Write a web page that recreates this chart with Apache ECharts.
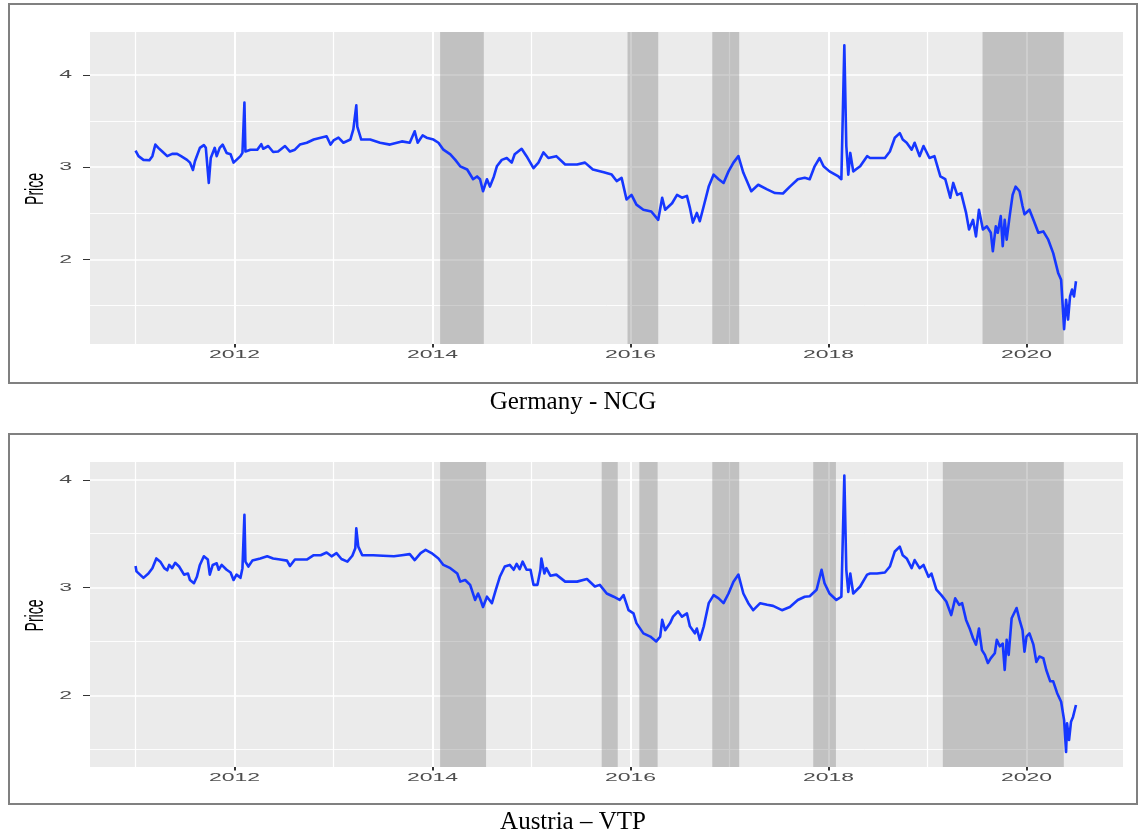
<!DOCTYPE html>
<html>
<head>
<meta charset="utf-8">
<script src="https://cdn.jsdelivr.net/npm/echarts@6/dist/echarts.min.js"></script>
<style>
  html, body { margin: 0; padding: 0; background: #ffffff; }
  #chart { width: 1139px; height: 836px; }
</style>
</head>
<body>
<div id="chart"></div>
<script>
// Daily gas hub prices (decimal year, price), Germany NCG
const ncgYears = [
  2011.00, 2011.03, 2011.08, 2011.14, 2011.17, 2011.20, 2011.23, 2011.27, 2011.32, 2011.37,
  2011.42, 2011.46, 2011.52, 2011.55, 2011.58, 2011.60, 2011.65, 2011.69, 2011.71, 2011.74,
  2011.76, 2011.80, 2011.82, 2011.85, 2011.88, 2011.92, 2011.96, 2011.99, 2012.02, 2012.06,
  2012.08, 2012.10, 2012.11, 2012.16, 2012.23, 2012.27, 2012.29, 2012.34, 2012.39, 2012.44,
  2012.51, 2012.56, 2012.61, 2012.66, 2012.73, 2012.80, 2012.87, 2012.93, 2012.97, 2013.00,
  2013.05, 2013.10, 2013.17, 2013.20, 2013.23, 2013.24, 2013.28, 2013.37, 2013.47, 2013.57,
  2013.69, 2013.77, 2013.82, 2013.85, 2013.90, 2013.94, 2014.01, 2014.06, 2014.11, 2014.18,
  2014.23, 2014.28, 2014.35, 2014.41, 2014.45, 2014.48, 2014.51, 2014.55, 2014.58, 2014.62,
  2014.65, 2014.70, 2014.75, 2014.80, 2014.83, 2014.90, 2014.95, 2015.02, 2015.07, 2015.12,
  2015.17, 2015.25, 2015.34, 2015.46, 2015.54, 2015.62, 2015.73, 2015.81, 2015.86, 2015.91,
  2015.96, 2016.01, 2016.06, 2016.13, 2016.21, 2016.28, 2016.32, 2016.35, 2016.42, 2016.47,
  2016.52, 2016.57, 2016.60, 2016.63, 2016.67, 2016.70, 2016.74, 2016.79, 2016.84, 2016.89,
  2016.94, 2016.99, 2017.04, 2017.09, 2017.14, 2017.22, 2017.29, 2017.38, 2017.46, 2017.54,
  2017.61, 2017.69, 2017.76, 2017.81, 2017.86, 2017.91, 2017.95, 2018.01, 2018.10, 2018.13,
  2018.16, 2018.18, 2018.20, 2018.22, 2018.25, 2018.32, 2018.39, 2018.42, 2018.49, 2018.57,
  2018.62, 2018.67, 2018.72, 2018.75, 2018.79, 2018.84, 2018.87, 2018.92, 2018.96, 2019.02,
  2019.07, 2019.13, 2019.18, 2019.23, 2019.26, 2019.30, 2019.34, 2019.39, 2019.42, 2019.46,
  2019.49, 2019.52, 2019.56, 2019.60, 2019.64, 2019.66, 2019.69, 2019.71, 2019.74, 2019.76,
  2019.78, 2019.80, 2019.83, 2019.86, 2019.89, 2019.93, 2019.96, 2019.98, 2020.03, 2020.07,
  2020.12, 2020.17, 2020.22, 2020.27, 2020.32, 2020.35, 2020.38, 2020.40, 2020.42, 2020.44,
  2020.46, 2020.48, 2020.50
];
const ncgPrice = [
  3.18, 3.12, 3.08, 3.075, 3.12, 3.245, 3.21, 3.17, 3.12, 3.145,
  3.145, 3.12, 3.08, 3.05, 2.97, 3.065, 3.21, 3.24, 3.21, 2.83,
  3.10, 3.21, 3.12, 3.21, 3.245, 3.155, 3.14, 3.05, 3.08, 3.12,
  3.155, 3.70, 3.17, 3.19, 3.19, 3.25, 3.20, 3.23, 3.165, 3.17,
  3.23, 3.17, 3.19, 3.245, 3.265, 3.30, 3.32, 3.335, 3.245, 3.29,
  3.32, 3.265, 3.30, 3.41, 3.67, 3.44, 3.30, 3.30, 3.265, 3.245,
  3.28, 3.265, 3.39, 3.265, 3.345, 3.32, 3.30, 3.265, 3.19, 3.14,
  3.08, 3.01, 2.975, 2.87, 2.90, 2.87, 2.74, 2.87, 2.79, 2.90,
  3.01, 3.08, 3.10, 3.05, 3.14, 3.20, 3.12, 2.99, 3.05, 3.16,
  3.10, 3.12, 3.03, 3.03, 3.05, 2.975, 2.945, 2.92, 2.85, 2.885,
  2.65, 2.70, 2.595, 2.54, 2.52, 2.43, 2.67, 2.54, 2.61, 2.70,
  2.67, 2.69, 2.56, 2.40, 2.505, 2.415, 2.58, 2.79, 2.92, 2.87,
  2.83, 2.955, 3.05, 3.12, 2.94, 2.74, 2.81, 2.76, 2.72, 2.715,
  2.79, 2.87, 2.885, 2.87, 3.01, 3.10, 3.01, 2.955, 2.90, 2.87,
  4.32, 3.23, 2.92, 3.155, 2.955, 3.01, 3.12, 3.10, 3.10, 3.10,
  3.17, 3.32, 3.37, 3.30, 3.265, 3.19, 3.265, 3.12, 3.23, 3.10,
  3.12, 2.90, 2.87, 2.67, 2.83, 2.70, 2.72, 2.505, 2.325, 2.43,
  2.25, 2.54, 2.325, 2.36, 2.29, 2.09, 2.36, 2.29, 2.47, 2.145,
  2.43, 2.215, 2.47, 2.70, 2.79, 2.74, 2.58, 2.49, 2.54, 2.43,
  2.29, 2.305, 2.215, 2.07, 1.855, 1.78, 1.245, 1.565, 1.35, 1.60,
  1.675, 1.60, 1.765
];

// Daily gas hub prices (decimal year, price), Austria VTP
const vtpYears = [
  2011.00, 2011.01, 2011.08, 2011.13, 2011.17, 2011.21, 2011.25, 2011.29, 2011.32, 2011.34,
  2011.37, 2011.40, 2011.44, 2011.49, 2011.53, 2011.55, 2011.59, 2011.62, 2011.65, 2011.69,
  2011.73, 2011.75, 2011.78, 2011.82, 2011.84, 2011.87, 2011.92, 2011.96, 2011.99, 2012.02,
  2012.06, 2012.08, 2012.10, 2012.11, 2012.14, 2012.18, 2012.26, 2012.33, 2012.39, 2012.46,
  2012.53, 2012.56, 2012.61, 2012.68, 2012.73, 2012.80, 2012.87, 2012.93, 2012.98, 2013.03,
  2013.08, 2013.14, 2013.19, 2013.22, 2013.23, 2013.25, 2013.29, 2013.40, 2013.50, 2013.61,
  2013.69, 2013.77, 2013.82, 2013.88, 2013.93, 2013.99, 2014.06, 2014.11, 2014.18, 2014.25,
  2014.28, 2014.33, 2014.38, 2014.43, 2014.46, 2014.48, 2014.51, 2014.55, 2014.60, 2014.64,
  2014.68, 2014.73, 2014.78, 2014.82, 2014.85, 2014.88, 2014.91, 2014.95, 2014.99, 2015.02,
  2015.06, 2015.09, 2015.10, 2015.13, 2015.15, 2015.19, 2015.25, 2015.34, 2015.46, 2015.56,
  2015.64, 2015.69, 2015.76, 2015.83, 2015.89, 2015.93, 2015.98, 2016.03, 2016.06, 2016.13,
  2016.20, 2016.26, 2016.30, 2016.32, 2016.35, 2016.40, 2016.43, 2016.48, 2016.52, 2016.57,
  2016.60, 2016.65, 2016.67, 2016.70, 2016.74, 2016.79, 2016.84, 2016.89, 2016.94, 2016.99,
  2017.04, 2017.09, 2017.14, 2017.19, 2017.24, 2017.31, 2017.38, 2017.44, 2017.53, 2017.61,
  2017.69, 2017.76, 2017.81, 2017.88, 2017.93, 2017.96, 2018.01, 2018.08, 2018.13, 2018.16,
  2018.18, 2018.20, 2018.22, 2018.25, 2018.32, 2018.39, 2018.42, 2018.49, 2018.57, 2018.62,
  2018.67, 2018.72, 2018.75, 2018.79, 2018.84, 2018.87, 2018.92, 2018.96, 2019.01, 2019.04,
  2019.09, 2019.14, 2019.19, 2019.24, 2019.28, 2019.32, 2019.35, 2019.39, 2019.43, 2019.46,
  2019.49, 2019.52, 2019.55, 2019.58, 2019.61, 2019.64, 2019.68, 2019.70, 2019.73, 2019.76,
  2019.78, 2019.80, 2019.82, 2019.85, 2019.90, 2019.93, 2019.96, 2019.98, 2020.00, 2020.03,
  2020.07, 2020.10, 2020.13, 2020.17, 2020.20, 2020.24, 2020.27, 2020.31, 2020.35, 2020.38,
  2020.40, 2020.41, 2020.43, 2020.45, 2020.47, 2020.50
];
const vtpPrice = [
  3.20, 3.15, 3.09, 3.13, 3.18, 3.27, 3.24, 3.18, 3.16, 3.21,
  3.18, 3.23, 3.195, 3.12, 3.13, 3.07, 3.04, 3.10, 3.21, 3.29,
  3.26, 3.12, 3.21, 3.225, 3.165, 3.21, 3.165, 3.14, 3.07, 3.12,
  3.09, 3.18, 3.675, 3.24, 3.195, 3.25, 3.27, 3.29, 3.27, 3.26,
  3.25, 3.20, 3.26, 3.26, 3.26, 3.30, 3.30, 3.325, 3.29, 3.32,
  3.265, 3.24, 3.295, 3.365, 3.55, 3.38, 3.30, 3.30, 3.295, 3.29,
  3.30, 3.31, 3.255, 3.32, 3.35, 3.32, 3.27, 3.21, 3.18, 3.13,
  3.055, 3.07, 3.025, 2.885, 2.945, 2.90, 2.82, 2.915, 2.855, 2.98,
  3.10, 3.195, 3.21, 3.165, 3.22, 3.17, 3.24, 3.165, 3.165, 3.025,
  3.025, 3.165, 3.27, 3.13, 3.18, 3.11, 3.12, 3.055, 3.055, 3.08,
  3.01, 3.025, 2.945, 2.915, 2.885, 2.93, 2.79, 2.76, 2.67, 2.575,
  2.545, 2.50, 2.545, 2.70, 2.605, 2.67, 2.73, 2.78, 2.73, 2.76,
  2.64, 2.575, 2.62, 2.515, 2.64, 2.855, 2.93, 2.90, 2.855, 2.945,
  3.055, 3.12, 2.945, 2.855, 2.79, 2.855, 2.84, 2.83, 2.79, 2.82,
  2.885, 2.915, 2.92, 2.98, 3.165, 3.04, 2.945, 2.885, 2.915, 4.04,
  3.165, 2.96, 3.13, 2.945, 3.01, 3.12, 3.13, 3.13, 3.14, 3.195,
  3.335, 3.38, 3.30, 3.27, 3.18, 3.255, 3.18, 3.21, 3.10, 3.13,
  2.98, 2.93, 2.87, 2.745, 2.90, 2.84, 2.855, 2.70, 2.61, 2.53,
  2.47, 2.62, 2.42, 2.375, 2.30, 2.345, 2.39, 2.515, 2.455, 2.48,
  2.235, 2.515, 2.375, 2.715, 2.81, 2.70, 2.605, 2.405, 2.545, 2.575,
  2.47, 2.31, 2.36, 2.345, 2.235, 2.13, 2.13, 2.02, 1.94, 1.77,
  1.475, 1.74, 1.585, 1.755, 1.80, 1.91
];

// Highlighted periods [start, end] in decimal years
const ncgShade = [[2014.077, 2014.518], [2015.97, 2016.28], [2016.826, 2017.098], [2019.556, 2020.377]];
const vtpShade = [[2014.077, 2014.541], [2015.709, 2015.871], [2016.089, 2016.274], [2016.826, 2017.098],
                  [2017.846, 2018.075], [2019.155, 2020.377]];

// Axis ticks and grid lines
const yearTicks = [2012, 2014, 2016, 2018, 2020];
const yearMinor = [2011, 2013, 2015, 2017, 2019];
const priceTicks = [2, 3, 4];
const priceMinor = [1.5, 2.5, 3.5];

const captions = ['Germany - NCG', 'Austria \u2013 VTP'];
const yTitle = 'Price';

// Panel layout (pixels) and value ranges
const panels = [
  { years: ncgYears, price: ncgPrice, shade: ncgShade, caption: captions[0],
    grid: { left: 90, top: 32, width: 1033, height: 312 }, yMin: 1.085, yMax: 4.465,
    frame: { x: 9, y: 4, width: 1128, height: 379 }, captionY: 402 },
  { years: vtpYears, price: vtpPrice, shade: vtpShade, caption: captions[1],
    grid: { left: 90, top: 462, width: 1033, height: 305 }, yMin: 1.335, yMax: 4.165,
    frame: { x: 9, y: 434, width: 1128, height: 370 }, captionY: 822 }
];
const xMin = 2010.54, xMax = 2020.975;

const LINE_BLUE = '#1637ff';
const PANEL_BG = '#ebebeb';
const SHADE = 'rgba(120,120,120,0.36)';
const TEXT_GREY = '#4d4d4d';

const chart = echarts.init(document.getElementById('chart'), null, { renderer: 'canvas' });

const gridLine = (key, v, w) => ({ [key]: v, lineStyle: { color: '#ffffff', width: w, type: 'solid' } });

const option = {
  animation: false,
  backgroundColor: '#ffffff',
  grid: panels.map(p => ({
    left: p.grid.left, top: p.grid.top, width: p.grid.width, height: p.grid.height,
    show: true, backgroundColor: PANEL_BG, borderWidth: 0, containLabel: false
  })),
  xAxis: panels.map((p, i) => ({
    type: 'value', gridIndex: i, min: xMin, max: xMax,
    axisLine: { show: false },
    axisTick: { show: true, customValues: yearTicks, length: 3.5, lineStyle: { color: '#333333', width: 2 } },
    axisLabel: { show: false },
    splitLine: { show: false }
  })),
  yAxis: panels.map((p, i) => ({
    type: 'value', gridIndex: i, min: p.yMin, max: p.yMax,
    axisLine: { show: false },
    axisTick: { show: true, customValues: priceTicks, length: 7, lineStyle: { color: '#333333', width: 1 } },
    axisLabel: { show: false },
    splitLine: { show: false }
  })),
  series: panels.map((p, i) => ({
    type: 'line', xAxisIndex: i, yAxisIndex: i, z: 3,
    data: p.years.map((y, k) => [y, p.price[k]]),
    showSymbol: false, symbol: 'none', silent: true, clip: true,
    lineStyle: { color: LINE_BLUE, width: 2.6, join: 'round' },
    markLine: {
      silent: true, symbol: 'none', z: 0.5, animation: false,
      label: { show: false },
      data: [
        ...yearMinor.map(v => gridLine('xAxis', v, 1.2)),
        ...priceMinor.map(v => gridLine('yAxis', v, 0.9)),
        ...yearTicks.map(v => gridLine('xAxis', v, 2)),
        ...priceTicks.map(v => gridLine('yAxis', v, 1.6))
      ]
    },
    markArea: {
      silent: true, z: 1, animation: false,
      itemStyle: { color: SHADE },
      label: { show: false },
      data: p.shade.map(s => [{ xAxis: s[0] }, { xAxis: s[1] }])
    }
  }))
};

chart.setOption(option);

// Tick labels, axis titles, frames and captions
const graphics = [];
panels.forEach((p, i) => {
  graphics.push({
    type: 'rect', silent: true, z: 10,
    shape: { x: p.frame.x, y: p.frame.y, width: p.frame.width, height: p.frame.height },
    style: { fill: 'none', stroke: '#808080', lineWidth: 2 }
  });
  graphics.push({
    type: 'text', silent: true, z: 10, x: 573, y: p.captionY,
    style: { text: p.caption, font: '25px "Liberation Serif", "Times New Roman", serif',
             fill: '#000000', align: 'center', verticalAlign: 'middle' }
  });
  const bottom = p.grid.top + p.grid.height;
  yearTicks.forEach(v => {
    const px = chart.convertToPixel({ gridIndex: i }, [v, p.yMin]);
    graphics.push({
      type: 'text', silent: true, z: 10, x: px[0], y: bottom + 11, scaleX: 2,
      style: { text: String(v), font: '11.5px "Liberation Sans", Arial, sans-serif',
               fill: TEXT_GREY, align: 'center', verticalAlign: 'middle' }
    });
  });
  priceTicks.forEach(v => {
    const px = chart.convertToPixel({ gridIndex: i }, [xMin, v]);
    graphics.push({
      type: 'text', silent: true, z: 10, x: p.grid.left - 18, y: px[1], scaleX: 2,
      style: { text: String(v), font: '11.5px "Liberation Sans", Arial, sans-serif',
               fill: TEXT_GREY, align: 'right', verticalAlign: 'middle' }
    });
  });
  graphics.push({
    type: 'text', silent: true, z: 10, x: 36, y: p.grid.top + p.grid.height / 2 + 1,
    rotation: Math.PI / 2, scaleY: 1.9,
    style: { text: yTitle, font: '14px "Liberation Sans", Arial, sans-serif',
             fill: '#000000', align: 'center', verticalAlign: 'middle' }
  });
});

chart.setOption({ graphic: { elements: graphics } });
</script>
</body>
</html>
